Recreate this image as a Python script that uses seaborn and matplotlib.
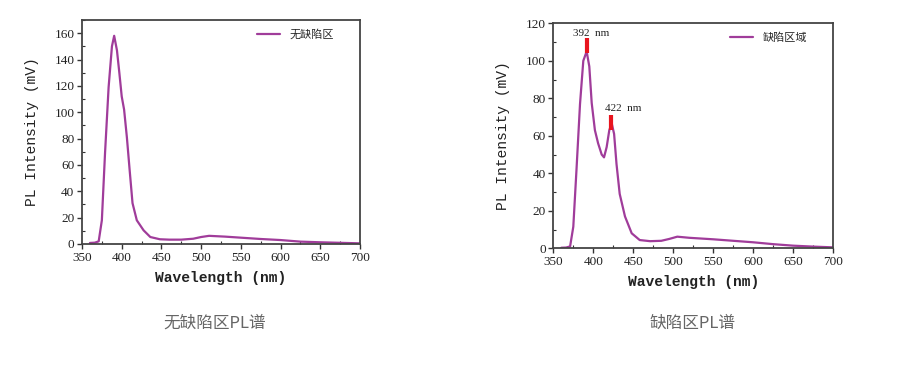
import numpy as np
import pandas as pd
import seaborn as sns
import matplotlib
matplotlib.use("Agg")
import matplotlib.pyplot as plt
from matplotlib.ticker import MultipleLocator

# ---- data ----
wl_a = [360, 366, 371, 375, 379, 383.5, 387.7, 390.5, 394, 397, 400, 403, 406.5,
        410, 413.6, 419, 427.5, 436, 448, 460, 475, 490, 500, 510, 530, 550,
        575, 600, 625, 650, 675, 700]
pl_a = [0.8, 1.0, 2.0, 18, 69, 119, 150, 158, 147, 130, 112, 102, 81,
        56, 31, 18, 10.4, 5.3, 3.6, 3.3, 3.3, 4.0, 5.3, 6.2, 5.6, 4.8,
        3.8, 3.0, 1.8, 1.3, 0.9, 0.5]

wl_b = [360, 366, 371, 375, 379, 383.4, 387.5, 391.7, 395, 398, 402, 406, 410.5,
        413.4, 416.7, 420, 423, 426, 429, 433, 439.6, 448, 458, 471, 485, 495,
        505, 520, 550, 575, 600, 625, 650, 675, 700]
pl_b = [0.3, 0.4, 1.0, 11.5, 42, 77, 100, 105, 97, 77.5, 63, 56, 50,
        48.5, 54, 63, 66.7, 61, 45, 29, 17, 8, 4.4, 3.8, 4.0, 5.0,
        6.2, 5.6, 4.8, 4.0, 3.2, 2.2, 1.4, 0.9, 0.5]

peak_wl = [392, 422]
peak_lo = [104, 63]
peak_hi = [112, 71]
peak_txt = ["392  nm", "422  nm"]
peak_txt_x = [375, 415]
peak_txt_y = [114.5, 74.5]

legend_a = "无缺陷区"
legend_b = "缺陷区域"
caption_a = "无缺陷区PL谱"
caption_b = "缺陷区PL谱"
xlabel = "Wavelength (nm)"
ylabel = "PL Intensity (mV)"

line_color = "#a03c9a"
red = "#e8141e"

sns.set_theme(style="white")
plt.rcParams["font.family"] = ["Liberation Serif", "Noto Sans CJK SC", "DejaVu Sans"]

fig = plt.figure(figsize=(9, 3.7), dpi=100)
ax1 = fig.add_axes([82/900, 1-244/370, (360-82)/900, (244-20)/370])
ax2 = fig.add_axes([553.3/900, 1-248.3/370, (833.3-553.3)/900, (248.3-23.3)/370])

df_a = pd.DataFrame({"wl": wl_a, "pl": pl_a})
df_b = pd.DataFrame({"wl": wl_b, "pl": pl_b})

sns.lineplot(data=df_a, x="wl", y="pl", ax=ax1, color=line_color, lw=1.6, label=legend_a)
sns.lineplot(data=df_b, x="wl", y="pl", ax=ax2, color=line_color, lw=1.6, label=legend_b)

ax2.vlines(peak_wl, peak_lo, peak_hi, colors=red, lw=3, zorder=5)
for t, x, y in zip(peak_txt, peak_txt_x, peak_txt_y):
    ax2.text(x, y, t, fontsize=8, ha="left", va="center", color="#222",
             family=["Liberation Serif"])

for ax, ymax, cap, cx in [(ax1, 170, caption_a, 215/900), (ax2, 120, caption_b, 692/900)]:
    ax.set_xlim(350, 700)
    ax.set_ylim(0, ymax)
    ax.xaxis.set_major_locator(MultipleLocator(50))
    ax.xaxis.set_minor_locator(MultipleLocator(25))
    ax.yaxis.set_major_locator(MultipleLocator(20))
    ax.yaxis.set_minor_locator(MultipleLocator(10))
    ax.tick_params(which="major", direction="out", length=3.5, width=1, color="#333",
                   labelsize=9.5, pad=2, bottom=True, left=True)
    ax.tick_params(which="minor", direction="in", length=2, width=0.8, color="#333",
                   bottom=True, left=True)
    for s in ax.spines.values():
        s.set_color("#444")
        s.set_linewidth(1.3)
    ax.set_xlabel(xlabel, family=["Liberation Mono"], fontsize=10.5, fontweight="bold",
                  color="#222", labelpad=5)
    ax.set_ylabel(ylabel, family=["Liberation Mono"], fontsize=10.5, color="#222",
                  labelpad=11)
    for lab in ax.get_xticklabels() + ax.get_yticklabels():
        lab.set_color("#222")
    ax.legend(loc="upper right", bbox_to_anchor=(0.945, 1.01), frameon=False,
              handlelength=2.1, borderaxespad=0.6,
              prop={"family": ["Noto Sans CJK SC"], "size": 8})
    fig.text(cx, 1-323/370, cap, ha="center", va="center", fontsize=12, color="#666",
             family=["Noto Sans CJK SC"])

fig.savefig("out.png", dpi=100, facecolor="white")
